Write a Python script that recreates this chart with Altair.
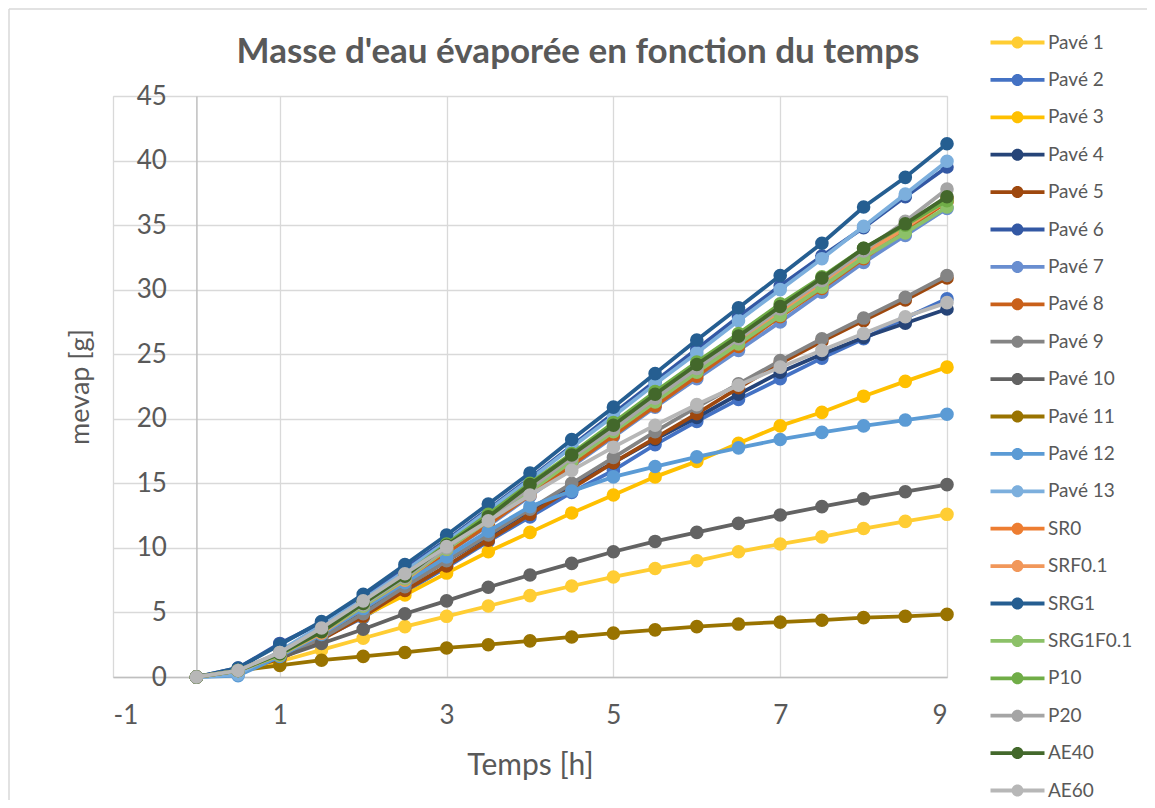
import altair as alt
import pandas as pd

# ---------------- data ----------------
hours = [0, 0.5, 1, 1.5, 2, 2.5, 3, 3.5, 4, 4.5, 5, 5.5, 6, 6.5, 7, 7.5, 8, 8.5, 9]

series_names = ["Pavé 1", "Pavé 2", "Pavé 3", "Pavé 4", "Pavé 5", "Pavé 6", "Pavé 7",
                "Pavé 8", "Pavé 9", "Pavé 10", "Pavé 11", "Pavé 12", "Pavé 13",
                "SR0", "SRF0.1", "SRG1", "SRG1F0.1", "P10", "P20", "AE40", "AE60"]

series_colors = ["#FFCD33", "#4472C4", "#FFC000", "#264478", "#9E480E", "#3358A4", "#698ED0",
                 "#C9601A", "#848484", "#636363", "#997300", "#5B9BD5", "#7CAFDD",
                 "#ED7D31", "#F1975A", "#255E91", "#8CC168", "#70AD47", "#A5A5A5", "#43682B", "#B7B7B7"]

pave_1 = [0, 0.4, 1.2, 2.1, 3.0, 3.9, 4.7, 5.5, 6.3, 7.05, 7.75, 8.4, 9.0, 9.7, 10.3, 10.85, 11.5, 12.05, 12.6]
pave_2 = [0, 0.5, 1.5, 3.0, 4.6, 6.6, 8.5, 10.5, 12.4, 14.3, 16.0, 18.0, 19.8, 21.5, 23.1, 24.7, 26.2, 27.8, 29.3]
pave_3 = [0, 0.4, 1.4, 3.0, 4.7, 6.35, 8.05, 9.7, 11.2, 12.7, 14.1, 15.5, 16.7, 18.1, 19.45, 20.5, 21.75, 22.9, 24.0]
pave_4 = [0, 0.5, 1.6, 3.2, 5.0, 7.0, 9.0, 10.9, 12.9, 14.8, 16.6, 18.4, 20.1, 21.9, 23.6, 25.0, 26.3, 27.4, 28.5]
pave_5 = [0, 0.5, 1.4, 2.9, 4.7, 6.7, 8.6, 10.6, 12.6, 14.6, 16.6, 18.5, 20.4, 22.4, 24.3, 26.0, 27.6, 29.2, 30.9]
pave_6 = [0, 0.7, 2.6, 4.2, 6.2, 8.4, 10.6, 13.0, 15.4, 17.9, 20.4, 22.9, 25.4, 27.9, 30.3, 32.6, 34.8, 37.2, 39.5]
pave_7 = [0, 0.4, 1.6, 3.3, 5.3, 7.3, 9.6, 11.7, 14.0, 16.3, 18.6, 20.9, 23.1, 25.3, 27.5, 29.8, 32.1, 34.2, 36.3]
pave_8 = [0, 0.5, 1.6, 3.3, 5.3, 7.3, 9.6, 11.8, 14.1, 16.4, 18.7, 21.0, 23.3, 25.6, 27.9, 30.1, 32.4, 34.6, 36.8]
pave_9 = [0, 0.5, 1.5, 3.0, 4.9, 7.0, 9.0, 11.0, 13.0, 15.0, 17.0, 19.0, 20.9, 22.7, 24.5, 26.2, 27.8, 29.4, 31.1]
pave_10 = [0, 0.5, 1.5, 2.6, 3.7, 4.9, 5.9, 6.95, 7.9, 8.8, 9.7, 10.5, 11.2, 11.9, 12.55, 13.2, 13.8, 14.35, 14.9]
pave_11 = [0, 0.5, 0.9, 1.3, 1.6, 1.9, 2.25, 2.5, 2.8, 3.1, 3.4, 3.65, 3.9, 4.1, 4.25, 4.4, 4.6, 4.7, 4.85]
pave_12 = [0, 0.1, 1.6, 3.3, 5.3, 7.3, 9.3, 11.3, 13.2, 14.4, 15.5, 16.3, 17.05, 17.75, 18.4, 18.95, 19.45, 19.9, 20.35]
pave_13 = [0, 0.2, 2.0, 4.0, 6.0, 8.2, 10.5, 12.9, 15.3, 17.8, 20.2, 22.7, 25.1, 27.6, 30.0, 32.4, 34.9, 37.4, 39.95]
sr0 = [0, 0.5, 1.7, 3.5, 5.6, 7.6, 10.0, 12.2, 14.6, 16.9, 19.2, 21.6, 23.9, 26.1, 28.4, 30.6, 32.9, 35.0, 37.1]
srf01 = [0, 0.5, 1.7, 3.4, 5.5, 7.5, 9.9, 12.1, 14.5, 16.8, 19.1, 21.4, 23.7, 26.0, 28.2, 30.4, 32.7, 34.8, 36.9]
srg1 = [0, 0.7, 2.5, 4.3, 6.4, 8.7, 11.0, 13.4, 15.8, 18.4, 20.9, 23.5, 26.1, 28.6, 31.1, 33.6, 36.4, 38.7, 41.3]
srg1f01 = [0, 0.5, 1.7, 3.5, 5.5, 7.6, 9.9, 12.1, 14.4, 16.7, 19.0, 21.3, 23.6, 25.8, 28.0, 30.2, 32.5, 34.4, 36.4]
p10 = [0, 0.5, 1.8, 3.6, 5.8, 7.9, 10.3, 12.6, 15.0, 17.3, 19.7, 22.1, 24.4, 26.6, 28.9, 31.0, 33.2, 35.0, 36.9]
p20 = [0, 0.5, 1.9, 3.6, 5.6, 7.7, 10.0, 12.3, 14.6, 17.0, 19.2, 21.6, 23.9, 26.2, 28.5, 30.7, 33.0, 35.3, 37.8]
ae40 = [0, 0.5, 1.8, 3.5, 5.7, 7.8, 10.2, 12.4, 14.9, 17.2, 19.5, 21.9, 24.2, 26.4, 28.7, 30.9, 33.2, 35.1, 37.2]
ae60 = [0, 0.5, 1.9, 3.8, 5.9, 8.0, 10.1, 12.1, 14.1, 16.0, 17.8, 19.5, 21.1, 22.6, 24.0, 25.3, 26.6, 27.9, 29.0]

all_values = [pave_1, pave_2, pave_3, pave_4, pave_5, pave_6, pave_7, pave_8, pave_9, pave_10,
              pave_11, pave_12, pave_13, sr0, srf01, srg1, srg1f01, p10, p20, ae40, ae60]

x_ticks = [-1, 1, 3, 5, 7, 9]
y_ticks = [0, 5, 10, 15, 20, 25, 30, 35, 40, 45]

rows = []
for name, vals in zip(series_names, all_values):
    for t, m in zip(hours, vals):
        rows.append({"serie": name, "t": t, "m": m})
df = pd.DataFrame(rows)

# ---------------- styling ----------------
FONT = "Lato"
TXT = "#595959"
GRID = "#D9D9D9"
LEGEND_SYMBOL = ("M-4.5,-0.32H4.5V0.32H-4.5Z "
                 "M1,0A1,1 0 1,1 -1,0A1,1 0 1,1 1,0Z")

legend = alt.Legend(
    title=None, orient="none", legendX=895, legendY=-63, direction="vertical",
    symbolType=LEGEND_SYMBOL, symbolSize=144, symbolStrokeWidth=0, symbolOpacity=1,
    labelFont=FONT, labelFontSize=19, labelColor=TXT, labelOffset=21,
    rowPadding=17.4, padding=0,
)

color = alt.Color("serie:N", scale=alt.Scale(domain=series_names, range=series_colors),
                  sort=series_names, legend=legend)

x_enc = alt.X("t:Q", scale=alt.Scale(domain=[-1, 9], nice=False, zero=False),
              axis=alt.Axis(values=x_ticks, title="Temps [h]", grid=True, gridColor=GRID, gridWidth=1.3,
                            domainColor="#BFBFBF", domainWidth=1.3, ticks=False,
                            labelExpr="'' + datum.value",
                            labelFont=FONT, labelFontSize=26, labelColor=TXT, labelPadding=38,
                            labelBaseline="middle",
                            titleFont=FONT, titleFontSize=30, titleFontWeight="normal", titleColor=TXT,
                            titleY=88, titleBaseline="middle"))

y_enc = alt.Y("m:Q", scale=alt.Scale(domain=[0, 45], nice=False),
              axis=alt.Axis(values=y_ticks, title="mevap [g]", offset=-83.4, grid=True, gridColor=GRID,
                            gridWidth=1.3, domainColor="#BFBFBF", domainWidth=1.5, ticks=False,
                            labelFont=FONT, labelFontSize=26, labelColor=TXT, labelPadding=30,
                            titleFont=FONT, titleFontSize=27, titleFontWeight="normal", titleColor=TXT,
                            titleX=-116, titleY=290.5, titleAngle=270, titleAlign="center",
                            titleBaseline="middle"))

base = alt.Chart(df)

# light border of the chart area, left and top edges only (decoration)
one = pd.DataFrame({"f": [0]})
frame_left = alt.Chart(one).mark_rule(stroke="#D9D9D9", strokeWidth=1.5, clip=False).encode(
    x=alt.value(-104), y=alt.value(-87), y2=alt.value(720))
frame_top = alt.Chart(one).mark_rule(stroke="#D9D9D9", strokeWidth=1.5, clip=False).encode(
    x=alt.value(-104), x2=alt.value(1050), y=alt.value(-87))

layers = [frame_left, frame_top]
for name in series_names:
    sub = base.transform_filter(alt.datum.serie == name)
    layers.append(sub.mark_line(strokeWidth=3.8, interpolate="linear").encode(
        x=x_enc, y=y_enc, color=color))
    layers.append(sub.mark_point(filled=True, size=185, opacity=1, shape="circle").encode(
        x=x_enc, y=y_enc, color=color))

chart = alt.layer(*layers).properties(
    width=834, height=581,
    title=alt.Title("Masse d'eau évaporée en fonction du temps", font=FONT, fontSize=35,
                    fontWeight="bold", color=TXT, anchor="middle", dx=48, dy=92, offset=30),
    autosize=alt.AutoSizeParams(type="none"),
    padding={"left": 105, "top": 88, "right": 200, "bottom": 123},
).configure_view(stroke=None).configure(background="white")

chart.save("out.html", embed_options={"renderer": "svg", "actions": False})
